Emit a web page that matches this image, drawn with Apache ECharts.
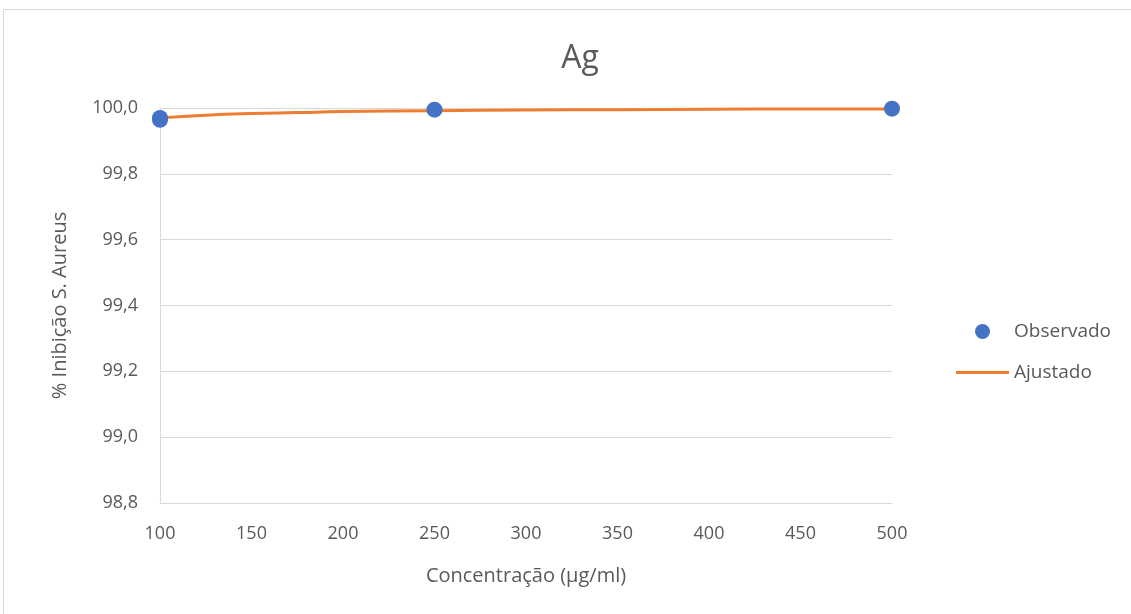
<!DOCTYPE html>
<html>
<head>
<meta charset="utf-8">
<title>Ag</title>
<script src="https://cdn.jsdelivr.net/npm/echarts@6/dist/echarts.min.js"></script>
<style>
  html, body { margin: 0; padding: 0; background: #ffffff; }
  #chart { width: 1131px; height: 614px; }
</style>
</head>
<body>
<div id="chart"></div>
<script>
// Observed inhibition (%) at each tested concentration (µg/ml)
const obsConc = [100, 100, 250, 500];
const obsInhib = [99.970, 99.964, 99.995, 99.998];

// Fitted curve readings
const fitConc = [100, 125, 150, 175, 200, 250, 300, 350, 400, 450, 500];
const fitInhib = [99.970, 99.978, 99.983, 99.986, 99.989, 99.992, 99.994, 99.995, 99.996, 99.997, 99.997];

// Axis ticks
const xTicks = { min: 100, max: 500, step: 50 };
const yTicks = { min: 98.8, max: 100.0, step: 0.2 };

const FONT = '"Open Sans", Lato, sans-serif';
const TEXT = '#595959';
const GRID = '#d9d9d9';

const chart = echarts.init(document.getElementById('chart'), null, { renderer: 'canvas' });

chart.setOption({
  animation: false,
  backgroundColor: '#ffffff',
  textStyle: { fontFamily: FONT },
  graphic: [{
    type: 'rect',
    shape: { x: 3.5, y: 9.5, width: 1140, height: 620 },
    style: { fill: 'none', stroke: GRID, lineWidth: 1 },
    silent: true
  }],
  title: {
    text: 'Ag',
    left: 575,
    textAlign: 'center',
    top: 38,
    textStyle: { fontFamily: FONT, fontSize: 32, fontWeight: 'normal', color: TEXT }
  },
  legend: {
    orient: 'vertical',
    left: 951,
    top: 317,
    itemWidth: 53,
    itemHeight: 15,
    itemGap: 22,
    textStyle: { fontFamily: FONT, fontSize: 19, color: TEXT, padding: [0, 0, 0, 0] },
    data: [
      { name: 'Observado' },
      { name: 'Ajustado', icon: 'path://M0,0 L53,0 L53,3 L0,3 Z' }
    ]
  },
  grid: { left: 160, right: 239, top: 108, bottom: 111, containLabel: false },
  xAxis: {
    type: 'value',
    min: xTicks.min,
    max: xTicks.max,
    interval: xTicks.step,
    name: 'Concentração (µg/ml)',
    nameLocation: 'middle',
    nameGap: 63,
    nameTextStyle: { fontFamily: FONT, fontSize: 20, color: TEXT },
    axisLine: { show: true, lineStyle: { color: GRID, width: 1 } },
    axisTick: { show: false },
    axisLabel: { margin: 22, fontFamily: FONT, fontSize: 18, color: TEXT },
    splitLine: { show: false }
  },
  yAxis: {
    type: 'value',
    min: yTicks.min,
    max: yTicks.max,
    interval: yTicks.step,
    name: '% Inibição S. Aureus',
    nameLocation: 'middle',
    nameGap: 90,
    nameTextStyle: { fontFamily: FONT, fontSize: 20, color: TEXT },
    axisLine: { show: true, lineStyle: { color: GRID, width: 1 } },
    axisTick: { show: false },
    axisLabel: {
      margin: 22,
      fontFamily: FONT,
      fontSize: 18,
      color: TEXT,
      formatter: v => v.toFixed(1).replace('.', ',')
    },
    splitLine: { show: true, lineStyle: { color: GRID, width: 1 } }
  },
  series: [
    {
      name: 'Ajustado',
      type: 'line',
      smooth: true,
      symbol: 'none',
      z: 2,
      lineStyle: { color: '#ed7d31', width: 3 },
      itemStyle: { color: '#ed7d31' },
      data: fitConc.map((x, i) => [x, fitInhib[i]])
    },
    {
      name: 'Observado',
      type: 'scatter',
      symbol: 'circle',
      symbolSize: 16,
      z: 3,
      itemStyle: { color: '#4472c4', opacity: 1 },
      data: obsConc.map((x, i) => [x, obsInhib[i]])
    }
  ]
});
</script>
</body>
</html>
